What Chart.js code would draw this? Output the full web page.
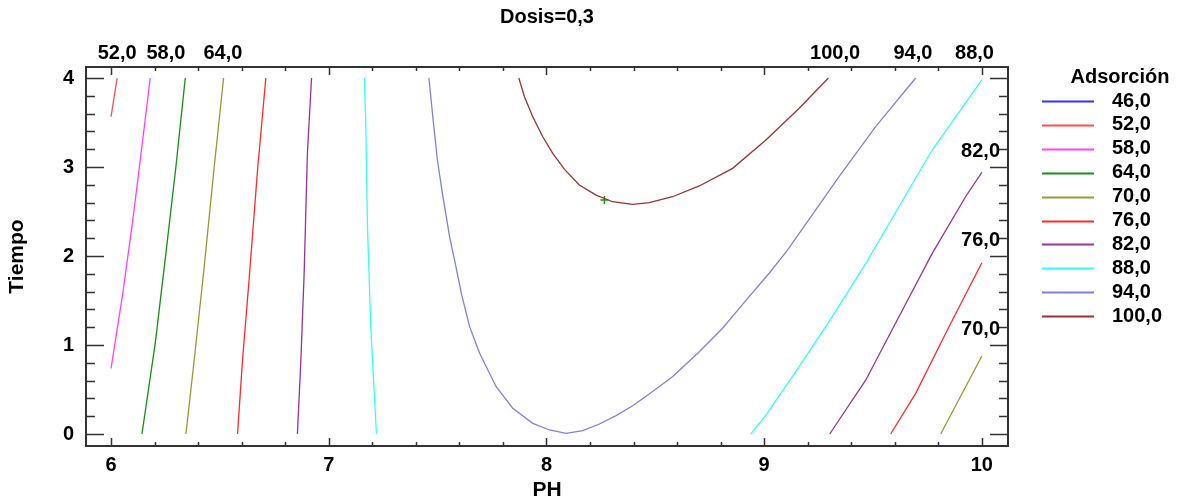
<!DOCTYPE html>
<html>
<head>
<meta charset="utf-8">
<script src="https://cdn.jsdelivr.net/npm/chart.js@4/dist/chart.umd.min.js"></script>
<style>
  body { margin: 0; background: #fff; }
  #wrap { width: 1179px; height: 503px; }
</style>
</head>
<body>
<div id="wrap"><canvas id="chart"></canvas></div>
<script>
// contour levels and colours
const levels = ['46,0', '52,0', '58,0', '64,0', '70,0', '76,0', '82,0', '88,0', '94,0', '100,0'];
const colors = ['#3030ff', '#ff4d4d', '#ff40ff', '#1a8c1a', '#999933', '#ff2a2a', '#993399', '#30ffff', '#8080e0', '#993333'];

const xTicks = [6, 7, 8, 9, 10];
const yTicks = [0, 1, 2, 3, 4];

// contour paths, [PH, Tiempo]
const c46 = [];
const c52 = [[6.028, 4], [6.0, 3.565]];
const c58 = [[6.180, 4], [6.138, 3.154], [6.100, 2.404], [6.054, 1.581], [6.0, 0.738]];
const c64 = [[6.341, 4], [6.298, 3.003], [6.252, 2.030], [6.203, 1.019], [6.142, 0]];
const c70a = [[6.517, 4], [6.474, 3.003], [6.428, 1.880], [6.382, 0.831], [6.344, 0]];
const c70b = [[9.811, 0], [10, 0.876]];
const c76a = [[6.711, 4], [6.673, 2.966], [6.634, 1.730], [6.604, 0.831], [6.581, 0]];
const c76b = [[9.581, 0], [9.696, 0.457], [9.849, 1.206], [10, 1.925]];
const c82a = [[6.921, 4], [6.902, 3.154], [6.887, 1.806], [6.872, 0.831], [6.856, 0]];
const c82b = [[9.301, 0], [9.467, 0.607], [9.619, 1.318], [9.772, 2.030], [9.925, 2.666], [10, 2.94]];
const c88a = [[7.164, 4], [7.170, 3.491], [7.178, 2.329], [7.193, 1.206], [7.219, 0]];
const c88b = [[8.939, 0], [9.008, 0.213], [9.161, 0.756], [9.313, 1.318], [9.467, 1.918], [9.619, 2.554], [9.772, 3.191], [10, 3.98]];
const c94 = [[7.460, 4], [7.478, 3.565], [7.499, 3.079], [7.522, 2.704], [7.555, 2.217], [7.578, 1.955],
  [7.609, 1.581], [7.647, 1.206], [7.693, 0.907], [7.769, 0.531], [7.845, 0.289], [7.937, 0.120],
  [8.014, 0.045], [8.090, 0.008], [8.167, 0.037], [8.243, 0.112], [8.320, 0.206], [8.396, 0.318],
  [8.472, 0.449], [8.579, 0.644], [8.702, 0.925], [8.809, 1.188], [8.931, 1.543], [9.023, 1.806],
  [9.107, 2.067], [9.161, 2.255], [9.344, 2.891], [9.512, 3.453], [9.696, 4]];
const c100 = [[7.873, 4], [7.899, 3.790], [7.937, 3.565], [7.983, 3.340], [8.029, 3.154], [8.083, 2.974],
  [8.151, 2.798], [8.228, 2.685], [8.304, 2.610], [8.396, 2.581], [8.472, 2.599], [8.579, 2.666],
  [8.702, 2.787], [8.855, 2.985], [9.008, 3.303], [9.161, 3.660], [9.295, 4]];
const optimum = [[8.266, 2.63]];

// labels written on the contours
const topLabels = [['52,0', 6.028], ['58,0', 6.252], ['64,0', 6.514], ['100,0', 9.326], ['94,0', 9.683], ['88,0', 9.966]];
const rightLabels = [['82,0', 3.17], ['76,0', 2.18], ['70,0', 1.17]];

const paths = [[c46], [c52], [c58], [c64], [c70a, c70b], [c76a, c76b], [c82a, c82b], [c88a, c88b], [c94], [c100]];

function toPoints(segs) {
    const out = [];
    segs.forEach(function (s, i) {
        if (i > 0) out.push({ x: null, y: null });
        s.forEach(function (p) { out.push({ x: p[0], y: p[1] }); });
    });
    return out;
}

const FONT = "'Liberation Sans', Arial, sans-serif";
Chart.defaults.font.family = FONT;
Chart.defaults.color = '#000';

const datasets = levels.map(function (lab, i) {
    return {
        label: lab,
        data: toPoints(paths[i]),
        showLine: true,
        borderColor: colors[i],
        backgroundColor: colors[i],
        borderWidth: 1.3,
        pointRadius: 0,
        spanGaps: false
    };
});
datasets.push({
    label: 'optimo',
    data: toPoints([optimum]),
    pointStyle: 'cross',
    pointRadius: 4,
    borderColor: '#10a010',
    borderWidth: 1.5,
    isMarker: true
});

const framePlugin = {
    id: 'frame',
    afterDatasetsDraw: function (chart) {
        const ctx = chart.ctx;
        const a = chart.chartArea;
        const xs = chart.scales.x, ys = chart.scales.y;
        ctx.save();
        ctx.strokeStyle = '#333';
        ctx.lineWidth = 2;
        ctx.strokeRect(a.left, a.top, a.right - a.left, a.bottom - a.top);
        ctx.lineWidth = 1.5;
        ctx.beginPath();
        for (let k = 0; k <= 20; k++) {
            const v = 6 + k * 0.2;
            const px = Math.round(xs.getPixelForValue(v)) + 0.5;
            const len = k % 5 === 0 ? 8 : 4;
            ctx.moveTo(px, a.bottom); ctx.lineTo(px, a.bottom - len);
            ctx.moveTo(px, a.top); ctx.lineTo(px, a.top + len);
        }
        for (let k = 0; k <= 20; k++) {
            const v = k * 0.2;
            const py = Math.round(ys.getPixelForValue(v)) + 0.5;
            const len = k % 5 === 0 ? 18 : 9;
            ctx.moveTo(a.left, py); ctx.lineTo(a.left + len, py);
            ctx.moveTo(a.right, py); ctx.lineTo(a.right - len, py);
        }
        ctx.stroke();

        // title
        ctx.fillStyle = '#000';
        ctx.font = 'bold 20px ' + FONT;
        ctx.textAlign = 'center';
        ctx.textBaseline = 'middle';
        ctx.fillText('Dosis=0,3', (a.left + a.right) / 2, 17);

        // contour labels
        topLabels.forEach(function (l) {
            ctx.textAlign = 'center';
            ctx.fillText(l[0], xs.getPixelForValue(l[1]), a.top - 14);
        });
        rightLabels.forEach(function (l) {
            ctx.textAlign = 'right';
            ctx.fillText(l[0], a.right - 8, ys.getPixelForValue(l[1]));
        });

        // legend
        ctx.textAlign = 'center';
        ctx.fillText('Adsorción', 1120, 77);
        ctx.textAlign = 'left';
        chart.data.datasets.forEach(function (ds, i) {
            if (ds.isMarker) return;
            const y = 101 + i * 23.9;
            ctx.strokeStyle = ds.borderColor;
            ctx.lineWidth = 2;
            ctx.beginPath();
            ctx.moveTo(1042, Math.round(y) + 0.5);
            ctx.lineTo(1094, Math.round(y) + 0.5);
            ctx.stroke();
            ctx.fillText(ds.label, 1112, y);
        });
        ctx.restore();
    }
};

new Chart(document.getElementById('chart'), {
    type: 'scatter',
    data: { datasets: datasets },
    options: {
        responsive: true,
        maintainAspectRatio: false,
        animation: false,
        layout: { padding: { left: 0, right: 171, top: 67, bottom: 0 } },
        plugins: {
            legend: { display: false },
            tooltip: { enabled: false }
        },
        scales: {
            x: {
                type: 'linear',
                min: 5.885,
                max: 10.12,
                grid: { display: false, drawTicks: false },
                border: { display: false },
                afterBuildTicks: function (s) { s.ticks = xTicks.map(function (v) { return { value: v }; }); },
                afterFit: function (s) { s.height = 57; },
                ticks: { padding: 7, font: { size: 20, weight: 'bold' }, color: '#000' },
                title: { display: true, text: 'PH', font: { size: 21, weight: 'bold' }, color: '#000', padding: { top: 0, bottom: 0 } }
            },
            y: {
                type: 'linear',
                min: -0.135,
                max: 4.124,
                grid: { display: false, drawTicks: false },
                border: { display: false },
                afterBuildTicks: function (s) { s.ticks = yTicks.map(function (v) { return { value: v }; }); },
                afterFit: function (s) { s.width = 86; },
                ticks: { padding: 12, font: { size: 20, weight: 'bold' }, color: '#000' },
                title: { display: true, text: 'Tiempo', font: { size: 21, weight: 'bold' }, color: '#000', padding: { top: 5, bottom: 0 } }
            }
        }
    },
    plugins: [framePlugin]
});
</script>
</body>
</html>
